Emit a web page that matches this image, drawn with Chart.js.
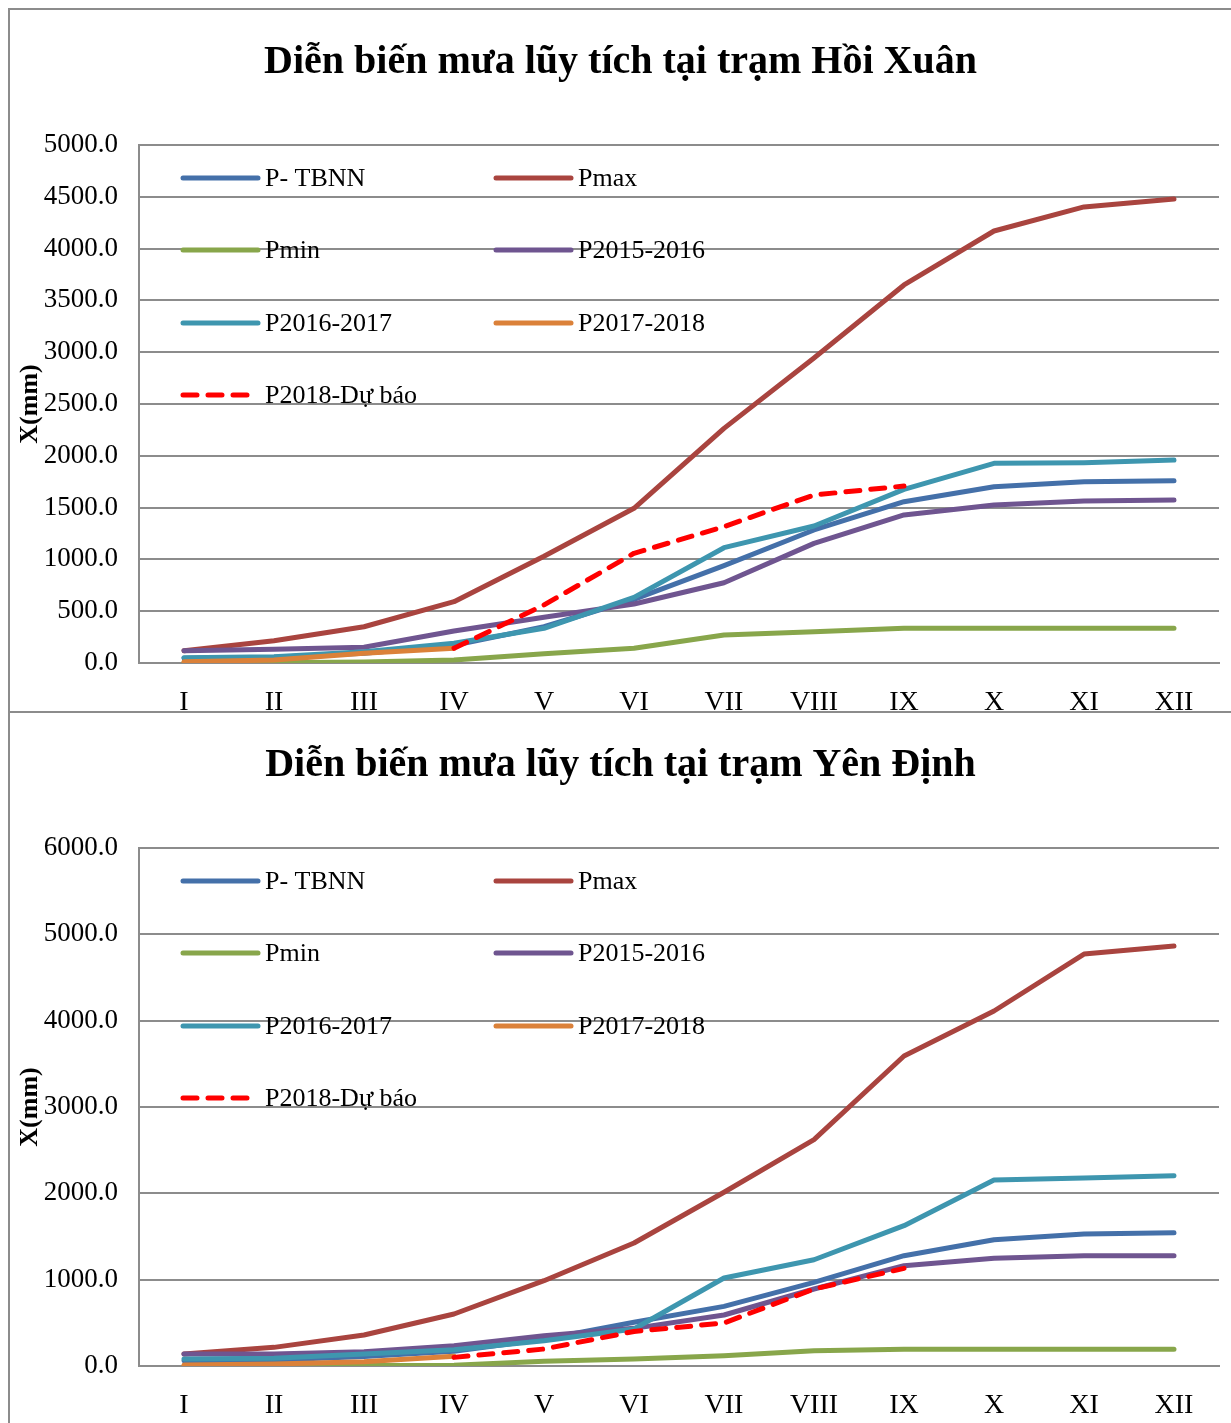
<!DOCTYPE html>
<html>
<head>
<meta charset="utf-8">
<script src="https://cdn.jsdelivr.net/npm/chart.js@4"></script>
<style>
  body { margin: 0; background: #fff; width: 1231px; height: 1423px; overflow: hidden; position: relative; }
  .box { position: absolute; left: 8px; width: 1300px; border-left: 2px solid #8c8c8c; border-top: 2px solid #8c8c8c; overflow: hidden; background: #fff; }
  #box1 { top: 8px; height: 701px; }
  #box2 { top: 711px; height: 720px; }
  canvas { display: block; }
</style>
</head>
<body>
<div class="box" id="box1"><canvas id="chart1" width="1221" height="713"></canvas></div>
<div class="box" id="box2"><canvas id="chart2" width="1221" height="713"></canvas></div>
<script>
// months
var months = ['I', 'II', 'III', 'IV', 'V', 'VI', 'VII', 'VIII', 'IX', 'X', 'XI', 'XII'];
var seriesNames = ['P- TBNN', 'Pmax', 'Pmin', 'P2015-2016', 'P2016-2017', 'P2017-2018', 'P2018-Dự báo'];

// tram Hoi Xuan
var hx_tbnn  = [45, 55, 95, 170, 350, 615, 940, 1284, 1557, 1702, 1750, 1760];
var hx_pmax  = [119, 215, 350, 592, 1030, 1493, 2265, 2944, 3649, 4170, 4402, 4479];
var hx_pmin  = [3, 3, 10, 29, 90, 142, 270, 302, 335, 335, 335, 335];
var hx_p1516 = [119, 132, 152, 309, 441, 569, 775, 1155, 1429, 1525, 1564, 1573];
var hx_p1617 = [51, 61, 109, 190, 335, 634, 1113, 1322, 1676, 1927, 1934, 1959];
var hx_p1718 = [13, 29, 93, 142, null, null, null, null, null, null, null, null];
var hx_p2018 = [null, null, null, 142, 560, 1059, 1316, 1622, 1708, null, null, null];

// tram Yen Dinh
var yd_tbnn  = [60, 70, 110, 170, 310, 506, 691, 969, 1278, 1463, 1529, 1544];
var yd_pmax  = [139, 216, 359, 602, 988, 1425, 2012, 2622, 3591, 4112, 4772, 4865];
var yd_pmin  = [0, 0, 5, 10, 55, 81, 120, 178, 193, 193, 193, 193];
var yd_p1516 = [139, 139, 166, 236, 351, 436, 591, 892, 1162, 1247, 1278, 1278];
var yd_p1617 = [81, 89, 139, 189, 293, 429, 1019, 1231, 1625, 2154, 2178, 2205];
var yd_p1718 = [12, 23, 50, 112, null, null, null, null, null, null, null, null];
var yd_p2018 = [null, null, null, 100, 197, 400, 498, 892, 1131, null, null, null];

var colors = ['#4470A9', '#A9443F', '#88A64B', '#6F5590', '#3E96AF', '#DB8139', '#FF0000'];
var gridColor = '#8c8c8c';
var fontFam = '"Liberation Serif", "Times New Roman", serif';

// legend in 2 columns inside the plot, like excel
var gridLegend = {
  id: 'gridLegend',
  afterDraw: function(chart) {
    var ctx = chart.ctx, a = chart.chartArea;
    var cols = [44, 357];
    var rows = [33, 105, 178, 250];
    ctx.save();
    chart.data.datasets.forEach(function(ds, i) {
      var x = a.left + cols[i % 2];
      var y = a.top + rows[Math.floor(i / 2)];
      ctx.beginPath();
      ctx.strokeStyle = ds.borderColor;
      ctx.lineWidth = 5;
      ctx.lineCap = 'round';
      ctx.setLineDash(ds.borderDash || []);
      ctx.moveTo(x, y);
      ctx.lineTo(x + 75, y);
      ctx.stroke();
      ctx.setLineDash([]);
      ctx.fillStyle = '#000';
      ctx.font = '26px ' + fontFam;
      ctx.textBaseline = 'middle';
      ctx.fillText(ds.label, x + 82, y + 1);
    });
    ctx.restore();
  }
};

function makeChart(id, title, yMax, yStep, values) {
  var datasets = values.map(function(v, i) {
    return {
      label: seriesNames[i],
      data: v,
      borderColor: colors[i],
      backgroundColor: colors[i],
      borderWidth: 5,
      borderDash: i == 6 ? [14, 11] : [],
      borderCapStyle: 'round',
      borderJoinStyle: 'round',
      pointRadius: 0,
      tension: 0,
      fill: false,
      order: 6 - i
    };
  });
  return new Chart(document.getElementById(id), {
    type: 'line',
    data: { labels: months, datasets: datasets },
    plugins: [gridLegend],
    options: {
      responsive: false,
      animation: false,
      layout: { padding: { left: 12, right: 12, top: 0, bottom: 0 } },
      plugins: {
        legend: { display: false },
        tooltip: { enabled: false },
        title: {
          display: true,
          text: title,
          color: '#000',
          font: { family: fontFam, size: 40, weight: 'bold' },
          padding: { top: 29, bottom: 58 }
        }
      },
      scales: {
        x: {
          offset: true,
          grid: { display: false, drawTicks: false },
          border: { display: true, color: gridColor, width: 2 },
          ticks: { color: '#000', font: { family: fontFam, size: 28 }, padding: 23, maxRotation: 0, autoSkip: false },
          afterFit: function(s) { s.height = 60; }
        },
        y: {
          min: 0,
          max: yMax,
          ticks: {
            stepSize: yStep,
            color: '#000',
            font: { family: fontFam, size: 27 },
            padding: 21,
            callback: function(v) { return v.toFixed(1); }
          },
          grid: { color: gridColor, lineWidth: 2, drawTicks: false },
          border: { display: true, color: gridColor, width: 2 },
          title: {
            display: true,
            text: 'X(mm)',
            color: '#000',
            font: { family: fontFam, size: 26, weight: 'bold', lineHeight: 0.6 },
            padding: { top: 0, bottom: 0 }
          },
          afterFit: function(s) { s.width = 117; }
        }
      }
    }
  });
}

makeChart('chart1', 'Diễn biến mưa lũy tích tại trạm Hồi Xuân', 5000, 500,
  [hx_tbnn, hx_pmax, hx_pmin, hx_p1516, hx_p1617, hx_p1718, hx_p2018]);
makeChart('chart2', 'Diễn biến mưa lũy tích tại trạm Yên Định', 6000, 1000,
  [yd_tbnn, yd_pmax, yd_pmin, yd_p1516, yd_p1617, yd_p1718, yd_p2018]);
</script>
</body>
</html>
